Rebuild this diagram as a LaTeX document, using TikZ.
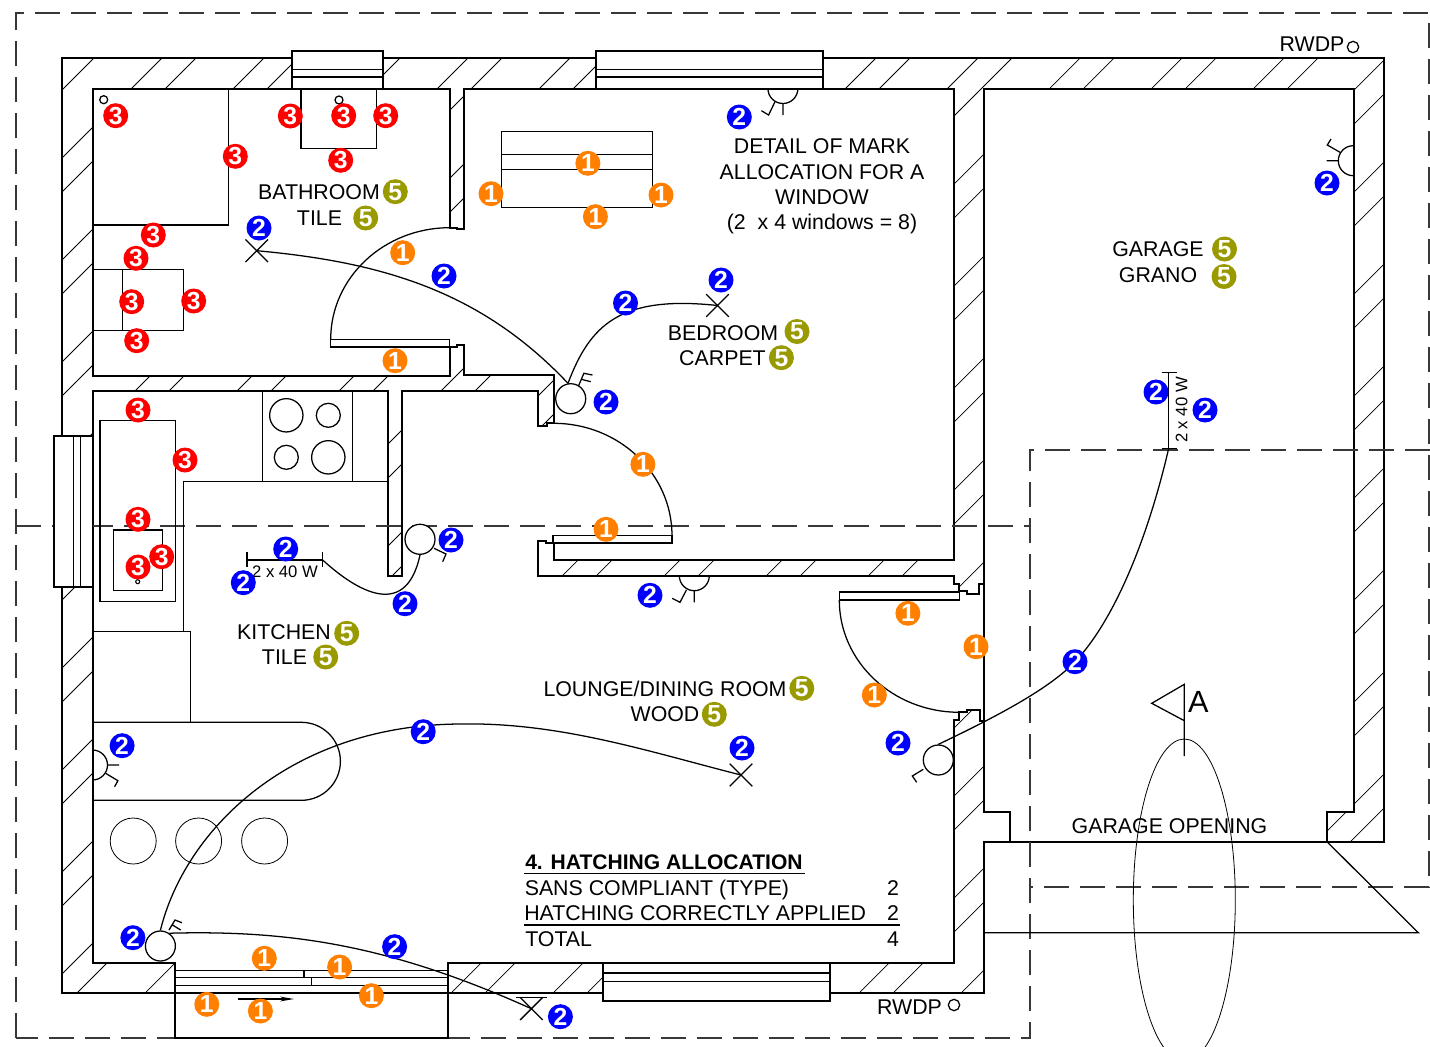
\documentclass[tikz,border=0pt]{standalone}
\usepackage{fontspec}
\setmainfont{Liberation Sans}
\usetikzlibrary{shapes.geometric,shapes.misc,arrows.meta}

\definecolor{orange1}{RGB}{255,128,0}
\definecolor{olive5}{RGB}{153,153,0}

\newcommand{\wallouter}{(62,58) -- (1384,58) -- (1384,842) -- (984.3,842) -- (984.3,993.3) -- (62,993.3) -- cycle}
\newcommand{\wallinner}{(92.5,88.5) -- (449.7,88.5) -- (449.7,227.7) -- (457.3,227.7) -- (457.3,229.3) -- (464,229.3) -- (464,88.5) -- (954,88.5) -- (954,560.3) -- (553.6,560.3) -- (553.6,543) -- (546.4,543) -- (546.4,541) -- (538.2,541) -- (538.2,575.7) -- (954,575.7) -- (954,584) -- (959.3,584) -- (959.3,590.7) -- (966.8,590.7) -- (966.8,594) -- (979.3,594) -- (979.3,584.3) -- (984.3,584.3) -- (984.3,88.5) -- (1354,88.5) -- (1354,811.7) -- (1327.3,811.7) -- (1327.3,842) -- (1010.3,842) -- (1010.3,811.7) -- (984.3,811.7) -- (984.3,720.7) -- (980,720.7) -- (980,710) -- (966.7,710) -- (966.7,712.3) -- (959.3,712.3) -- (959.3,720) -- (954,720) -- (954,963) -- (447.9,963) -- (447.9,993.3) -- (175.4,993.3) -- (175.4,963) -- (92.5,963) -- (92.5,391) -- (387.7,391) -- (387.7,575.7) -- (402.3,575.7) -- (402.3,390.7) -- (538.2,390.7) -- (538.2,425.7) -- (547,425.7) -- (547,423.3) -- (553.6,423.3) -- (553.6,375) -- (464.3,375) -- (464.3,345) -- (457.3,345) -- (457.3,347) -- (449.7,347) -- (449.7,375.7) -- (92.5,375.7) -- cycle}

\begin{document}
\begin{tikzpicture}[x=0.75pt,y=-0.75pt,
	wall/.style={line width=1.5pt,line join=miter},
	fitting/.style={line width=0.95pt},
	hatching/.style={line width=0.55pt},
	wire/.style={line width=0.95pt},
	gridline/.style={line width=0.8pt,draw=black!78,dash pattern=on 18.75pt off 8.25pt},
	windowbox/.style={line width=1.3pt,fill=white},
	lamp/.style={circle,draw,fill=white,line width=0.95pt,minimum size=22.5pt,inner sep=0pt},
	crosslight/.style={cross out,draw,line width=0.95pt,minimum size=16pt,inner sep=0pt},
	roomlabel/.style={font=\fontsize{16}{19.1}\selectfont,align=center,inner sep=0pt},
	wattage/.style={font=\fontsize{12.5}{15}\selectfont,inner sep=0pt},
	tag/.style={circle,text=white,font=\fontsize{18.5}{18.5}\selectfont\bfseries,minimum size=18.75pt,inner sep=0pt},
	tagone/.style={tag,fill=orange1},
	tagtwo/.style={tag,fill=blue},
	tagthree/.style={tag,fill=red},
	tagfive/.style={tag,fill=olive5}
	]
	\clip (0,0) rectangle (1430,1046);

	\begin{scope}[even odd rule]
		\clip \wallouter \wallinner;
		\foreach \n in {16,118,...,2400} {
			\draw[hatching] (\n,0) -- (0,\n);
			\draw[hatching] (\n+34,0) -- (0,\n+34);
		}
	\end{scope}
	\draw[wall] \wallouter;
	\draw[wall] \wallinner;
	\draw[wall] (984.3,584.3) -- (984.3,720.7);

	\draw[gridline] (16,1038) -- (16,13) -- (1429,13) -- (1429,887) -- (1030,887);
	\draw[gridline] (16,526) -- (1030,526);
	\draw[gridline] (1430,450) -- (1030,450) -- (1030,1038) -- (16,1038);

	\draw[windowbox] (292.3,50.7) rectangle (383.3,88.5);
	\draw[line width=0.95pt] (292.3,69.3) -- (383.3,69.3) (292.3,77) -- (383.3,77);
	\draw[windowbox] (596,50.7) rectangle (822.9,88.5);
	\draw[line width=0.95pt] (596,69.3) -- (822.9,69.3) (596,77) -- (822.9,77);
	\draw[windowbox] (54.3,435.7) rectangle (92.5,586.7);
	\draw[line width=0.95pt] (73.7,435.7) -- (73.7,586.7) (80.7,435.7) -- (80.7,586.7);
	\draw[windowbox] (603,963) rectangle (830,1001);
	\draw[line width=0.95pt] (603,973) -- (830,973) (603,981.7) -- (830,981.7);

	\draw[fitting] (175.4,970.7) -- (447.9,970.7) (175.4,977.7) -- (447.9,977.7) (175.4,985.7) -- (447.9,985.7);
	\draw[fitting] (304,970.7) -- (304,977.7) (311.8,977.7) -- (311.8,985.7);
	\draw[wall] (175.4,993.3) -- (175.4,1038.3) -- (447.9,1038.3) -- (447.9,993.3);
	\draw[line width=0.95pt,-{Stealth[length=10.5pt,width=3.6pt]}] (237.9,999) -- (294,999);

	\draw[fitting] (330.7,339.3) rectangle (449.7,347);
	\draw[fitting] (449.7,227.7) arc[start angle=90,end angle=180,x radius=89.25pt,y radius=83.7pt];
	\draw[fitting] (553,535.7) rectangle (672,543);
	\draw[fitting] (553.6,423.3) arc[start angle=90,end angle=0,x radius=88.8pt,y radius=84.3pt];
	\draw[line width=1.2pt] (839.3,591.7) rectangle (959.3,600);
	\draw[fitting] (839.3,600) arc[start angle=180,end angle=270,x radius=90pt,y radius=84.2pt];

	\draw[fitting] (92.5,88.5) rectangle (228.7,225);
	\draw[fitting] (301,88.5) rectangle (376.7,148.7);
	\draw[fitting] (92.5,269.3) rectangle (183.3,330.3);
	\draw[fitting] (122.7,269.3) -- (122.7,330.3);
	\node[circle,draw,fitting,minimum size=6pt,inner sep=0pt] (bathdrain) at (103.7,99.7) {};
	\node[circle,draw,fitting,minimum size=6pt,inner sep=0pt] (basindrain) at (339,100) {};

	\draw[fitting] (501.4,131.7) rectangle (652.5,207.3);
	\draw[fitting] (501.4,154.7) -- (652.5,154.7) (501.4,169.7) -- (652.5,169.7);

	\draw[fitting] (262.3,391) rectangle (352.7,481.7);
	\draw[fitting] (387.7,481.7) -- (183.3,481.7) -- (183.3,631.7);
	\draw[fitting] (92.5,631.7) -- (190.7,631.7) -- (190.7,722.3);
	\draw[fitting] (100,420.7) rectangle (175.3,601.7);
	\draw[fitting] (113.3,530) rectangle (162.3,590.7);
	\node[circle,draw,line width=0.8pt,minimum size=3pt,inner sep=0pt] (sinkdrain) at (137.7,581.7) {};
	\node[circle,draw,fitting,minimum size=25pt,inner sep=0pt] (hobone) at (286.3,415.3) {};
	\node[circle,draw,fitting,minimum size=18pt,inner sep=0pt] (hobtwo) at (328.3,415.3) {};
	\node[circle,draw,fitting,minimum size=18pt,inner sep=0pt] (hobthree) at (286.3,457.3) {};
	\node[circle,draw,fitting,minimum size=25pt,inner sep=0pt] (hobfour) at (328.3,457.3) {};

	\draw[fitting] (92.5,722.3) -- (301.4,722.3) arc[start angle=90,end angle=-90,radius=29.25pt] -- (92.5,800.3);
	\foreach \x/\name in {133.2/one,198.6/two,264.6/three}
		\node[circle,draw,line width=0.6pt,minimum size=34.5pt,inner sep=0pt] (stool\name) at (\x,841) {};

	\draw[fitting] (1327.3,842) -- (1418.3,932.7) -- (984.3,932.7);
	\node[ellipse,draw,line width=0.6pt,minimum width=76.5pt,minimum height=241.5pt,inner sep=0pt] (drive) at (1184.3,900) {};
	\draw[fitting] (1184.3,756) -- (1184.3,684.3) -- (1151.7,703.3) -- (1184.3,720.7);

	\draw[fitting] (767.9,88.5) arc[start angle=180,end angle=360,radius=11.25pt];
	\draw[fitting] (782.9,103.3) -- (782.9,115) (775,101.7) -- (768.6,115) -- (761.4,110.7);
	\draw[fitting] (1353.3,145.7) arc[start angle=90,end angle=270,radius=11.25pt];
	\draw[fitting] (1338.3,160.7) -- (1326.7,160.7) (1340,152.3) -- (1327.3,145) -- (1331,139);
	\draw[fitting] (679.3,575.7) arc[start angle=180,end angle=360,radius=11.25pt];
	\draw[fitting] (694.3,590) -- (694.3,602.3) (686.4,590) -- (680,602.3) -- (672.1,598.3);
	\draw[fitting] (92.5,750) arc[start angle=90,end angle=-90,radius=11.25pt];
	\draw[fitting] (107.5,765) -- (119,765) (105.7,773.3) -- (117.9,780.7) -- (114.6,786.7);

	\node[lamp] (doorlamp) at (570.7,398.7) {};
	\draw[fitting] (578.6,385.7) -- (583.9,373.3) -- (592.5,375) (581.4,379.3) -- (590.7,381.7);
	\node[lamp] (kitchenlamp) at (420,539.3) {};
	\draw[fitting] (434,548.3) -- (446,554) -- (442.7,561.7);
	\node[lamp] (loungelamp) at (160.4,946) {};
	\draw[fitting] (169,930) -- (175,920) -- (182,922.7) (172.5,925) -- (180.7,930);
	\node[lamp] (garagelamp) at (938.3,760) {};
	\draw[fitting] (923.3,769.3) -- (912.3,776) -- (916.7,782.3);

	\node[crosslight] (bathlight) at (256.7,250.7) {};
	\node[crosslight] (bedlight) at (717.5,305.5) {};
	\node[crosslight] (loungelight) at (741,775) {};
	\node[crosslight] (outlight) at (531.4,1008.7) {};
	\draw[fitting] (516,997.7) -- (547,997.7);

	\coordinate (kitchenbar) at (322.7,560);
	\draw[fitting] (247,560) -- (kitchenbar) (247,552.3) -- (247,567.3) (322.7,552.3) -- (322.7,567.3);
	\coordinate (garagebar) at (1168.7,448.3);
	\draw[fitting] (1168.7,372.7) -- (garagebar) (1161.7,372.7) -- (1176.7,372.7) (1161.7,448.3) -- (1176.7,448.3);

	\draw[wire] (bathlight.center) .. controls (380,262) and (480,290) .. (doorlamp.100);
	\draw[wire] (doorlamp.100) .. controls (590,325) and (620,295) .. (bedlight.center);
	\draw[wire] (kitchenbar) .. controls (350,585) and (405,625) .. (kitchenlamp.270);
	\draw[wire] (loungelamp.90) .. controls (185,830) and (290,725) .. (460,724) .. controls (560,722) and (650,752) .. (loungelight.center);
	\draw[wire] (loungelamp.55) .. controls (290,930) and (390,945) .. (outlight.center);
	\draw[wire] (garagebar) .. controls (1145,550) and (1110,625) .. (1075,661.7) .. controls (1050,688) and (1000,715) .. (garagelamp.90);

	\node[roomlabel] (bathroom) at (319,192) {BATHROOM};
	\node[roomlabel] (bathtile) at (319.5,218) {TILE};
	\node[roomlabel] (detail) at (822,186.5) {DETAIL OF MARK\\ALLOCATION FOR A\\WINDOW\\(2\ \ x 4 windows = 8)};
	\node[roomlabel] (garage) at (1158,249) {GARAGE};
	\node[roomlabel] (grano) at (1158,275) {GRANO};
	\node[roomlabel] (bedroom) at (723,333) {BEDROOM};
	\node[roomlabel] (carpet) at (722.5,358) {CARPET};
	\node[roomlabel] (kitchen) at (284,632.5) {KITCHEN};
	\node[roomlabel] (kitchentile) at (284.5,657) {TILE};
	\node[roomlabel] (lounge) at (665,689) {LOUNGE/DINING ROOM};
	\node[roomlabel] (wood) at (665,714) {WOOD};
	\node[roomlabel] (opening) at (1169.5,826) {GARAGE OPENING};
	\node[roomlabel,font=\fontsize{23}{23}\selectfont] (flag) at (1198.3,702) {A};
	\node[wattage] (kitchenwatt) at (285,572) {2 x 40 W};
	\node[wattage,rotate=90] (garagewatt) at (1181.7,410) {2 x 40 W};

	\node[roomlabel] (rwdptop) at (1312,44) {RWDP};
	\node[circle,draw,fitting,minimum size=8.5pt,inner sep=0pt] (pipetop) at (1353,47) {};
	\node[roomlabel] (rwdpbot) at (909.5,1007) {RWDP};
	\node[circle,draw,fitting,minimum size=8.5pt,inner sep=0pt] (pipebot) at (954,1005) {};

	\node[roomlabel,anchor=west,font=\fontsize{15.8}{19.1}\selectfont\bfseries] (hatchtitle) at (525,862) {4. HATCHING ALLOCATION};
	\node[roomlabel,anchor=west] (rowsans) at (524.5,890) {SANS COMPLIANT (TYPE)};
	\node[roomlabel,anchor=west] (rowhatch) at (524,913) {HATCHING CORRECTLY APPLIED};
	\node[roomlabel,anchor=west] (rowtotal) at (525,939) {TOTAL};
	\node[roomlabel] (valsans) at (893,888) {2};
	\node[roomlabel] (valhatch) at (893,913) {2};
	\node[roomlabel] (valtotal) at (893,939) {4};
	\draw[fitting] (524,873.7) -- (805,873.7);
	\draw[fitting] (524,925) -- (900,925);

	\foreach \x/\y [count=\i] in {115.7/115.7,290.3/116,343.7/115.7,385.7/115.7,235.3/156.3,340.7/160.3,153.3/235,136/258.3,131.7/301.7,193.7/301,136.7/340.7,138/410,185/460,138/519.3,161.7/556.7,138/567}
		\node[tagthree] (three\i) at (\x,\y) {3};
	\foreach \x/\y [count=\i] in {259/228,444/276,739.3/117,721/280,625.5/303,1327/183,606/402,1156/392,1205/410,451/540,285.7/549,243.3/582.7,405/603.7,650/595.3,1075/661.7,898/743,742/748,122.1/745.7,423.2/731.7,132.9/937.7,394.6/946.7,560.4/1016.7}
		\node[tagtwo] (two\i) at (\x,\y) {2};
	\foreach \x/\y [count=\i] in {587.9/163.3,491/193.7,661/195,595.4/216.7,402.7/252.7,395/360.7,642.9/464.3,606/529.3,907.9/613.3,976/646.7,874.3/695,264.3/958.3,339.6/967,371.4/995.7,206.8/1004.3,260.4/1011}
		\node[tagone] (one\i) at (\x,\y) {1};
	\foreach \x/\y [count=\i] in {395.3/191.7,365.7/218,1224.5/249,1224/276.5,797/331.5,781.4/357.7,346.7/633.3,325.7/657,801.8/688.3,714.3/714.3}
		\node[tagfive] (five\i) at (\x,\y) {5};
\end{tikzpicture}
\end{document}
